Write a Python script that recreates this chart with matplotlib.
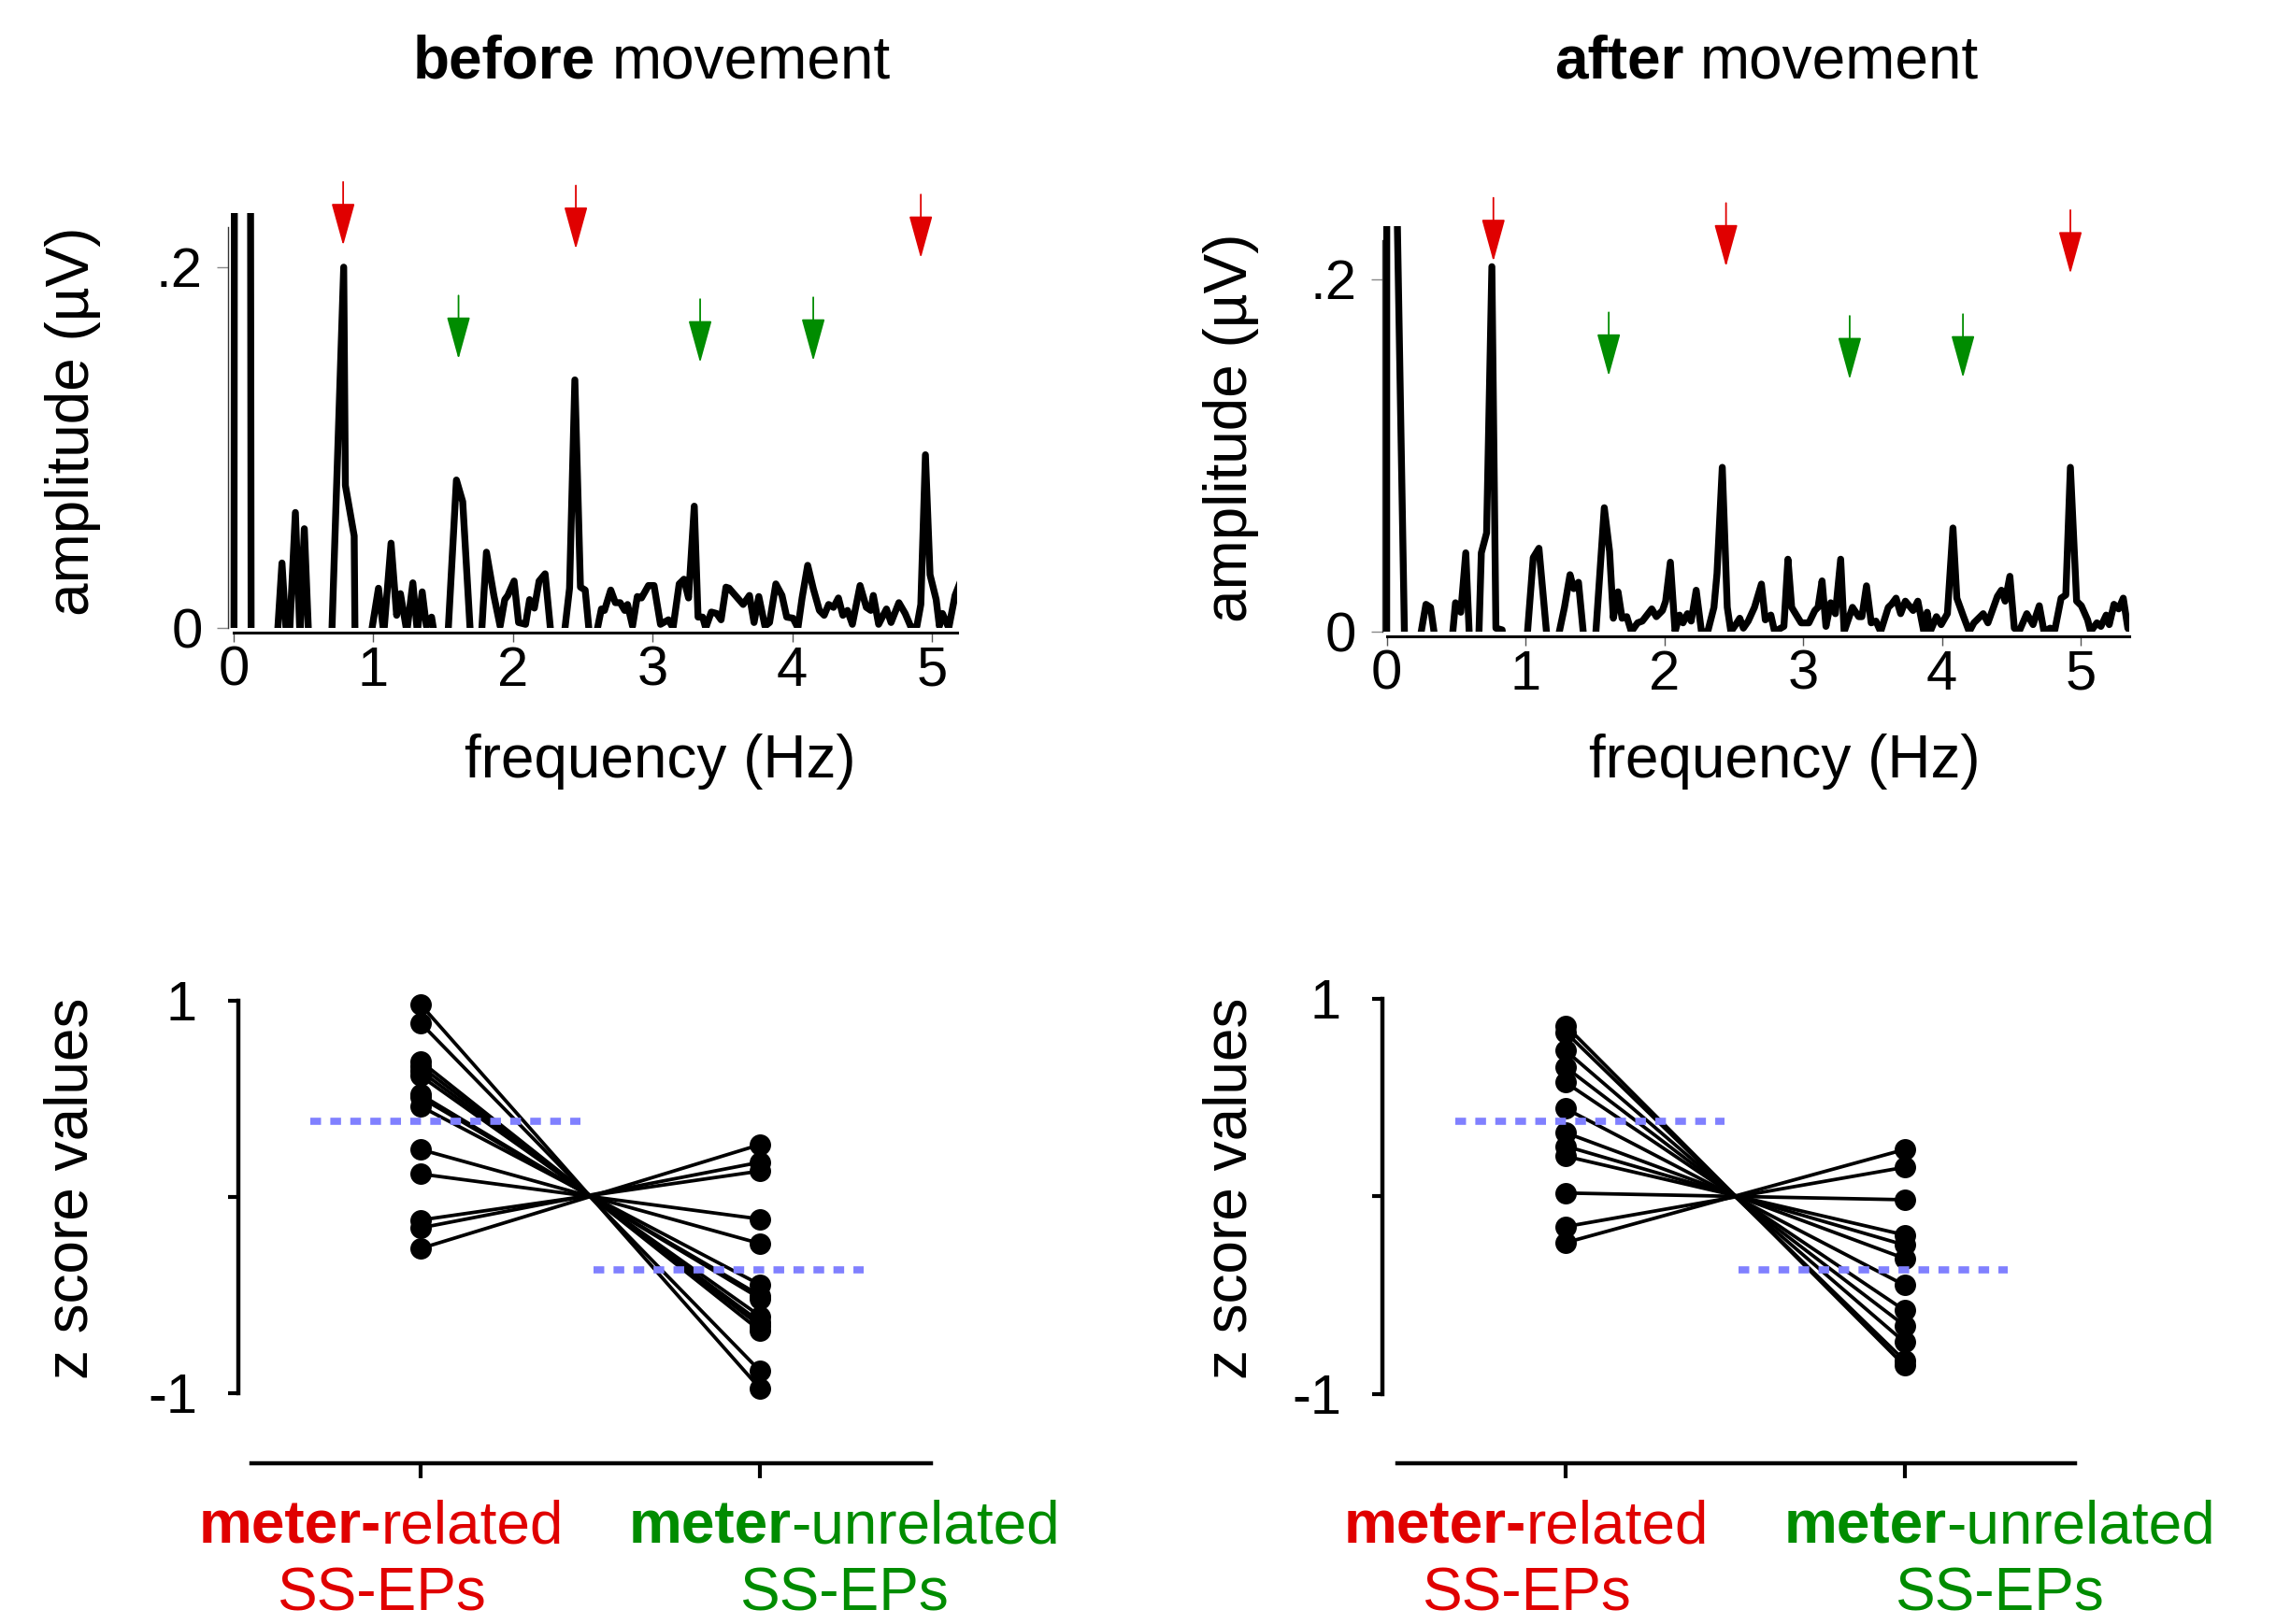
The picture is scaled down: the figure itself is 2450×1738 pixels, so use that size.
import matplotlib
matplotlib.use("Agg")
import matplotlib.pyplot as plt

plt.rcParams['font.family'] = ['Liberation Sans', 'DejaVu Sans']

RED = '#e00000'
GREEN = '#008c00'
BLUE = '#8080ff'

W, H = 2450, 1738

# ---- spectra (frequency in Hz, amplitude in uV; noise-subtracted so can go below 0)
freq_before = [0.00, 0.02, 0.06, 0.10, 0.13, 0.30, 0.346, 0.39, 0.442, 0.475, 0.506, 0.55,
               0.70, 0.788, 0.80, 0.863, 0.90, 0.985, 1.037, 1.075, 1.127, 1.167, 1.194, 1.24,
               1.283, 1.315, 1.35, 1.38, 1.417, 1.45, 1.53, 1.595, 1.64, 1.70, 1.775, 1.81,
               1.863, 1.908, 1.941, 1.963, 2.008, 2.04, 2.09, 2.119, 2.153, 2.187, 2.23, 2.28,
               2.365, 2.405, 2.443, 2.483, 2.517, 2.555, 2.60, 2.633, 2.655, 2.70, 2.733, 2.767,
               2.80, 2.82, 2.856, 2.89, 2.92, 2.97, 3.01, 3.056, 3.113, 3.146, 3.19, 3.224,
               3.257, 3.298, 3.325, 3.358, 3.38, 3.42, 3.458, 3.49, 3.525, 3.547, 3.592, 3.648,
               3.693, 3.726, 3.76, 3.804, 3.837, 3.882, 3.926, 3.96, 4.005, 4.04, 4.07, 4.11,
               4.15, 4.194, 4.228, 4.26, 4.295, 4.33, 4.362, 4.395, 4.43, 4.485, 4.53, 4.562,
               4.58, 4.618, 4.674, 4.707, 4.763, 4.808, 4.852, 4.892, 4.92, 4.953, 4.986, 5.03,
               5.053, 5.075, 5.12, 5.165, 5.20]
amp_before = [-0.20, 1.50, 2.00, 1.50, -0.30, -0.02, 0.036, -0.02, 0.064, -0.005, 0.055, -0.03,
              -0.01, 0.200, 0.079, 0.051, -0.30, -0.003, 0.022, -0.003, 0.047, 0.007, 0.019, -0.002,
              0.025, -0.002, 0.020, 0.001, 0.006, -0.01, -0.01, 0.082, 0.070, -0.01, -0.003, 0.042,
              0.018, 0.001, 0.0157, 0.018, 0.026, 0.003, 0.002, 0.0157, 0.011, 0.026, 0.030, -0.01,
              -0.005, 0.022, 0.1375, 0.0226, 0.021, -0.01, -0.002, 0.0105, 0.0097, 0.021, 0.014, 0.014,
              0.0097, 0.013, 0.001, 0.0174, 0.0166, 0.0235, 0.0235, 0.002, 0.0045, 0.0, 0.0244, 0.027,
              0.0166, 0.0675, 0.006, 0.006, 0.0, 0.0088, 0.008, 0.0045, 0.0226, 0.022, 0.018, 0.013,
              0.018, 0.003, 0.0174, 0.001, 0.003, 0.0244, 0.018, 0.006, 0.0054, 0.0, 0.0166, 0.0347,
              0.0218, 0.0097, 0.007, 0.013, 0.0114, 0.0166, 0.007, 0.0097, 0.002, 0.0235, 0.0114, 0.0097,
              0.018, 0.002, 0.0105, 0.003, 0.014, 0.008, 0.0, 0.001, 0.013, 0.096, 0.0295, 0.0157,
              0.001, 0.008, 0.0, 0.018, 0.025]

freq_after = [0.00, 0.005, 0.04, 0.13, 0.238, 0.283, 0.316, 0.35, 0.473, 0.496, 0.534, 0.57,
              0.597, 0.664, 0.682, 0.72, 0.758, 0.787, 0.832, 0.85, 1.01, 1.056, 1.097, 1.157,
              1.236, 1.281, 1.321, 1.348, 1.382, 1.422, 1.505, 1.568, 1.606, 1.633, 1.667, 1.696,
              1.73, 1.763, 1.808, 1.842, 1.91, 1.943, 1.987, 2.01, 2.044, 2.078, 2.11, 2.135,
              2.167, 2.194, 2.23, 2.268, 2.313, 2.358, 2.38, 2.418, 2.454, 2.48, 2.515, 2.544,
              2.57, 2.605, 2.65, 2.70, 2.728, 2.768, 2.795, 2.862, 2.891, 2.918, 2.986, 3.042,
              3.085, 3.108, 3.137, 3.165, 3.199, 3.233, 3.271, 3.296, 3.356, 3.401, 3.424, 3.457,
              3.491, 3.525, 3.559, 3.614, 3.637, 3.67, 3.703, 3.737, 3.793, 3.827, 3.87, 3.894,
              3.916, 3.961, 3.995, 4.04, 4.08, 4.108, 4.152, 4.197, 4.231, 4.298, 4.332, 4.40,
              4.429, 4.456, 4.49, 4.522, 4.556, 4.612, 4.657, 4.702, 4.736, 4.78, 4.814, 4.859,
              4.893, 4.926, 4.971, 5.005, 5.05, 5.072, 5.117, 5.146, 5.184, 5.206, 5.24, 5.274,
              5.307, 5.34, 5.36]
amp_after = [-0.05, 2.0, 0.40, -0.01, -0.005, 0.0155, 0.0138, -0.005, -0.003, 0.0164, 0.011, 0.0447,
             -0.005, -0.003, 0.0447, 0.056, 0.207, 0.002, 0.001, -0.02, -0.005, 0.042, 0.0473, -0.005,
             -0.003, 0.0138, 0.0323, 0.0244, 0.028, -0.005, -0.003, 0.0703, 0.0455, 0.0076, 0.0226, 0.0076,
             0.0085, 0.0, 0.005, 0.006, 0.0129, 0.0085, 0.012, 0.0173, 0.0394, 0.0, 0.0094, 0.005,
             0.0102, 0.006, 0.0235, 0.0, 0.0, 0.0138, 0.033, 0.0932, 0.0138, 0.0, 0.004, 0.0076,
             0.002, 0.006, 0.0138, 0.027, 0.0067, 0.0094, 0.0, 0.003, 0.0411, 0.0138, 0.005, 0.005,
             0.012, 0.0138, 0.0288, 0.003, 0.0164, 0.0102, 0.0411, 0.0, 0.0138, 0.0085, 0.0085, 0.026,
             0.005, 0.006, 0.0, 0.0138, 0.0155, 0.019, 0.0102, 0.0173, 0.012, 0.0173, 0.0, 0.011,
             0.0, 0.0085, 0.004, 0.0102, 0.0588, 0.019, 0.0094, 0.0, 0.005, 0.0102, 0.005, 0.020,
             0.0235, 0.0173, 0.0314, 0.002, 0.0, 0.0102, 0.004, 0.0147, 0.0, 0.002, 0.001, 0.019,
             0.0208, 0.0932, 0.0173, 0.0147, 0.0067, 0.0, 0.005, 0.003, 0.0094, 0.004, 0.0155, 0.0129,
             0.019, 0.002, 0.0]

# arrows marking meter-related (red) and meter-unrelated (green) frequencies
red_freq_before = [0.784, 2.45, 4.92]
red_tip_before = [0.212, 0.210, 0.205]
green_freq_before = [1.61, 3.34, 4.15]
green_tip_before = [0.149, 0.147, 0.148]
red_freq_after = [0.769, 2.445, 4.926]
red_tip_after = [0.210, 0.207, 0.203]
green_freq_after = [1.60, 3.336, 4.152]
green_tip_after = [0.145, 0.143, 0.144]

# ---- z scores per subject
z_related_before = [0.98, 0.885, 0.69, 0.665, 0.64, 0.615, 0.52, 0.505, 0.46, 0.24, 0.115, -0.12, -0.16, -0.265]
z_unrelated_before = [-0.98, -0.89, -0.685, -0.66, -0.64, -0.61, -0.52, -0.505, -0.45, -0.24, -0.115, 0.13, 0.175, 0.265]
z_related_after = [0.864, 0.83, 0.737, 0.653, 0.576, 0.444, 0.322, 0.254, 0.203, 0.017, -0.153, -0.234]
z_unrelated_after = [-0.856, -0.83, -0.737, -0.653, -0.576, -0.449, -0.314, -0.246, -0.195, -0.017, 0.147, 0.237]
mean_before = [0.381, -0.376]
mean_after = [0.378, -0.373]

fig = plt.figure(figsize=(W / 100, H / 100), dpi=100)


def rect(left, right, top, bottom):
    return [left / W, 1 - bottom / H, (right - left) / W, (bottom - top) / H]


def spectrum(r, xmin, xmax, freqs, amps, rf, rt, gf, gt):
    ax = fig.add_axes(r)
    ax.plot(freqs, amps, color='black', lw=5.3, solid_joinstyle='round')
    ax.set_xlim(xmin, xmax)
    ax.set_ylim(0, 0.23)
    for s in ['top', 'right']:
        ax.spines[s].set_visible(False)
    ax.spines['left'].set_bounds(0, 0.222)
    ax.spines['left'].set_linewidth(1.0)
    ax.spines['left'].set_color('#333333')
    ax.spines['bottom'].set_bounds(0, xmax)
    ax.spines['bottom'].set_linewidth(2.2)
    ax.spines['bottom'].set_position(('outward', 3.6))
    ax.set_xticks([0, 1, 2, 3, 4, 5])
    ax.set_xticklabels(['0', '1', '2', '3', '4', '5'])
    ax.set_yticks([0, 0.2])
    ax.set_yticklabels(['0', '.2'])
    ax.tick_params(axis='x', length=7, width=1, color='#555555', pad=3, labelsize=43)
    ax.tick_params(axis='y', length=8.6, width=1, color='#888888', pad=11, labelsize=43)
    for fs, ts, col in [(rf, rt, RED), (gf, gt, GREEN)]:
        for f, t in zip(fs, ts):
            ax.annotate('', xy=(f, t), xytext=(0, 49), textcoords='offset points',
                        arrowprops=dict(arrowstyle='-|>,head_length=1.45,head_width=0.4', color=col,
                                        lw=1.3, mutation_scale=20, shrinkA=0, shrinkB=0),
                        annotation_clip=False)
    return ax


spectrum(rect(244, 1024, 228, 672), -0.04, 5.18, freq_before, amp_before,
         red_freq_before, red_tip_before, green_freq_before, green_tip_before)
spectrum(rect(1478.5, 2278, 242, 676), -0.034, 5.35, freq_after, amp_after,
         red_freq_after, red_tip_after, green_freq_after, green_tip_after)


def zpanel(r, x0, ybot, rel, unrel, means):
    ax = fig.add_axes(r)
    for a, b in zip(rel, unrel):
        ax.plot([1, 2], [a, b], color='black', lw=2.7, marker='o', ms=15.5, zorder=3)
    ax.plot([0.675, 1.47], [means[0], means[0]], color=BLUE, lw=5.5, ls=(0, (1.5, 1.3)), zorder=4)
    ax.plot([1.51, 2.305], [means[1], means[1]], color=BLUE, lw=5.5, ls=(0, (1.5, 1.3)), zorder=4)
    ax.set_xlim(x0, 2.55)
    ax.set_ylim(ybot, 1.1)
    for s in ['top', 'right']:
        ax.spines[s].set_visible(False)
    ax.spines['left'].set_bounds(-1, 1)
    ax.spines['bottom'].set_bounds(0.503, 2.502)
    ax.spines['left'].set_linewidth(3.2)
    ax.spines['bottom'].set_linewidth(3.2)
    ax.set_yticks([-1, 0, 1])
    ax.set_yticklabels(['-1', '', '1'])
    ax.set_xticks([1, 2])
    ax.set_xticklabels(['', ''])
    ax.tick_params(axis='y', length=7.6, width=3, pad=24, labelsize=43)
    ax.tick_params(axis='x', length=11.5, width=3)
    return ax


zpanel(rect(254.9, 1013.4, 1049.5, 1565.7), 0.464, -1.358, z_related_before, z_unrelated_before, mean_before)
zpanel(rect(1479, 2236.9, 1047.6, 1565.8), 0.459, -1.349, z_related_after, z_unrelated_after, mean_after)

# ---- text
FS = 46


def label(x, y, s, **kw):
    return fig.text(x / W, 1 - y / H, s, fontsize=kw.pop('fontsize', FS), **kw)


label(78, 451, 'amplitude (µV)', rotation=90, ha='center', va='center')
label(1317, 458, 'amplitude (µV)', rotation=90, ha='center', va='center')
label(706, 815, 'frequency (Hz)', ha='center', va='center')
label(1909, 815, 'frequency (Hz)', ha='center', va='center')
label(77, 1272, 'z score values', rotation=90, ha='center', va='center')
label(1317, 1272, 'z score values', rotation=90, ha='center', va='center')

fig.canvas.draw()
renderer = fig.canvas.get_renderer()


def mixed(xc, yb, parts):
    # parts: (text, weight, color, gap after in em)
    texts = []
    for s, w, c, g in parts:
        texts.append((label(xc, yb, s, fontweight=w, color=c, ha='left', va='baseline'), g))
    widths = []
    for t, g in texts:
        widths.append(t.get_window_extent(renderer).width + g * FS * 100 / 72)
    x = xc - sum(widths) / 2
    for (t, g), wd in zip(texts, widths):
        t.set_x(x / W)
        x += wd


mixed(697, 83, [('before', 'bold', 'black', 0.278), ('movement', 'normal', 'black', 0)])
mixed(1890, 83, [('after', 'bold', 'black', 0.278), ('movement', 'normal', 'black', 0)])

mixed(408, 1651, [('meter-', 'bold', RED, 0), ('related', 'normal', RED, 0)])
mixed(903, 1651, [('meter', 'bold', GREEN, 0), ('-unrelated', 'normal', GREEN, 0)])
label(408, 1723, 'SS-EPs', color=RED, ha='center', va='baseline')
label(903, 1723, 'SS-EPs', color=GREEN, ha='center', va='baseline')

mixed(1633, 1651, [('meter-', 'bold', RED, 0), ('related', 'normal', RED, 0)])
mixed(2139, 1651, [('meter', 'bold', GREEN, 0), ('-unrelated', 'normal', GREEN, 0)])
label(1633, 1723, 'SS-EPs', color=RED, ha='center', va='baseline')
label(2139, 1723, 'SS-EPs', color=GREEN, ha='center', va='baseline')

fig.savefig('out.png', dpi=100, facecolor='white')
